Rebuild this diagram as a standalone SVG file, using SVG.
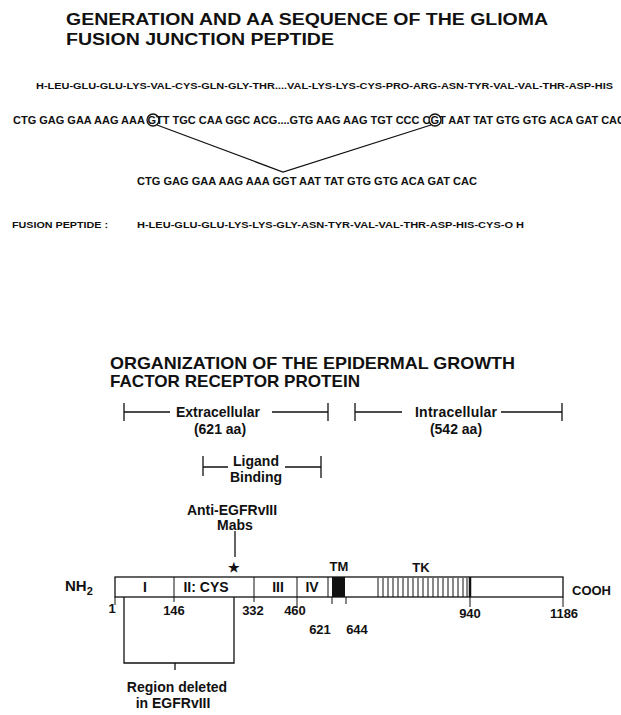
<svg xmlns="http://www.w3.org/2000/svg" width="621" height="715" viewBox="0 0 621 715">
<style>
text{font-family:"Liberation Sans",Arial,sans-serif;font-weight:bold;fill:#111}
.t{font-size:16px}
.aa{font-size:9px}
.dna{font-size:10.5px}
.lbl{font-size:14px}
.num{font-size:13px}
.ln{stroke:#111;stroke-width:1.3;fill:none}
.thin{stroke:#111;stroke-width:1;fill:none}
</style>
<rect width="621" height="715" fill="#fff"/>
<g id="title-glioma">
<text class="t" x="66" y="25" textLength="482" lengthAdjust="spacingAndGlyphs">GENERATION AND AA SEQUENCE OF THE GLIOMA</text>
<text class="t" x="66" y="45" textLength="268" lengthAdjust="spacingAndGlyphs">FUSION JUNCTION PEPTIDE</text>
</g>
<g id="aa-sequence">
<text class="aa" x="36" y="89" textLength="577" lengthAdjust="spacingAndGlyphs">H-LEU-GLU-GLU-LYS-VAL-CYS-GLN-GLY-THR....VAL-LYS-LYS-CYS-PRO-ARG-ASN-TYR-VAL-VAL-THR-ASP-HIS</text>
</g>
<g id="dna-sequence">
<text class="dna" x="13" y="124" textLength="612" lengthAdjust="spacingAndGlyphs">CTG GAG GAA AAG AAA GTT TGC CAA GGC ACG....GTG AAG AAG TGT CCC CGT AAT TAT GTG GTG ACA GAT CAC</text>
<circle class="ln" cx="153" cy="120" r="6"/>
<circle class="ln" cx="435" cy="120" r="6"/>
</g>
<g id="fusion-dna">
<text class="dna" x="137" y="185" textLength="340" lengthAdjust="spacingAndGlyphs">CTG GAG GAA AAG AAA GGT AAT TAT GTG GTG ACA GAT CAC</text>
</g>
<g id="fusion-peptide">
<text class="aa" x="12" y="228" textLength="96" lengthAdjust="spacingAndGlyphs">FUSION PEPTIDE :</text>
<text class="aa" x="137" y="228" textLength="387" lengthAdjust="spacingAndGlyphs">H-LEU-GLU-GLU-LYS-LYS-GLY-ASN-TYR-VAL-VAL-THR-ASP-HIS-CYS-O H</text>
</g>
<g id="title-egfr">
<text class="t" x="110" y="369" font-size="17" style="font-size:17px" textLength="405" lengthAdjust="spacingAndGlyphs">ORGANIZATION OF THE EPIDERMAL GROWTH</text>
<text class="t" x="110" y="387" style="font-size:17px" textLength="250" lengthAdjust="spacingAndGlyphs">FACTOR RECEPTOR PROTEIN</text>
</g>
<g id="extracellular">
<path class="ln" d="M124,403V421M124,412H170M272,412H328M328,403V421"/>
<text class="lbl" x="176" y="417" textLength="84">Extracellular</text>
<text class="lbl" x="220" y="434" text-anchor="middle">(621 aa)</text>
</g>
<g id="intracellular">
<path class="ln" d="M355,403V421M355,412H402M501,412H562M562,403V421"/>
<text class="lbl" x="415" y="417" textLength="82">Intracellular</text>
<text class="lbl" x="456" y="434" text-anchor="middle">(542 aa)</text>
</g>
<g id="ligand-binding">
<path class="ln" d="M203,456V476M203,467H228M285,467H321M321,456V478"/>
<text class="lbl" x="256" y="466" text-anchor="middle">Ligand</text>
<text class="lbl" x="256" y="482" text-anchor="middle">Binding</text>
</g>
<g id="anti-egfrviii">
<text class="lbl" x="232" y="515" text-anchor="middle">Anti-EGFRvIII</text>
<text class="lbl" x="235" y="530" text-anchor="middle">Mabs</text>
<text x="234" y="572" text-anchor="middle" style="font-size:13px">★</text>
</g>
<g id="connectors">
<path class="ln" d="M157,125L283,172L431,125"/>
<path class="ln" d="M235,531V557"/>
</g>
<g id="receptor-bar">
<rect class="ln" x="115" y="577" width="448" height="20"/>
<path class="thin" d="M174,577V602M254,577V602M297,577V607M328,577V597"/>
<rect x="332" y="577" width="13" height="20" fill="#111"/>
<path class="thin" d="M332,597V604M346,597V604M115,597V605M470,597V607M563,597V607"/>
<path class="thin" d="M378,578V597M383,578V597M388,578V597M393,578V597M398,578V597M403,578V597M408,578V597M413,578V597M418,578V597M423,578V597M428,578V597M433,578V597M438,578V597M443,578V597M448,578V597M453,578V597M458,578V597M463,578V597M467,578V597"/>
<path stroke="#111" stroke-width="2.5" d="M470,577V597"/>
<text class="lbl" x="145" y="592" text-anchor="middle">I</text>
<text class="lbl" x="206" y="592" text-anchor="middle">II: CYS</text>
<text class="lbl" x="278" y="592" text-anchor="middle">III</text>
<text class="lbl" x="312" y="592" text-anchor="middle">IV</text>
<text class="lbl" x="65" y="591" style="font-size:15px">NH<tspan dy="4" style="font-size:11px">2</tspan></text>
<text class="lbl" x="572" y="595" style="font-size:13px">COOH</text>
<text class="lbl" x="339" y="571" text-anchor="middle" style="font-size:13px">TM</text>
<text class="lbl" x="421" y="572" text-anchor="middle" style="font-size:13px">TK</text>
<text class="num" x="112" y="613" text-anchor="middle">1</text>
<text class="num" x="174" y="615" text-anchor="middle">146</text>
<text class="num" x="253" y="615" text-anchor="middle">332</text>
<text class="num" x="295" y="615" text-anchor="middle">460</text>
<text class="num" x="320" y="634" text-anchor="middle">621</text>
<text class="num" x="357" y="634" text-anchor="middle">644</text>
<text class="num" x="470" y="618" text-anchor="middle">940</text>
<text class="num" x="564" y="618" text-anchor="middle">1186</text>
</g>
<g id="region-deleted">
<path class="ln" d="M124,597V663H234V597M175,663V670"/>
<text class="lbl" x="177" y="692" text-anchor="middle">Region deleted</text>
<text class="lbl" x="173" y="708" text-anchor="middle">in EGFRvIII</text>
</g>
</svg>
